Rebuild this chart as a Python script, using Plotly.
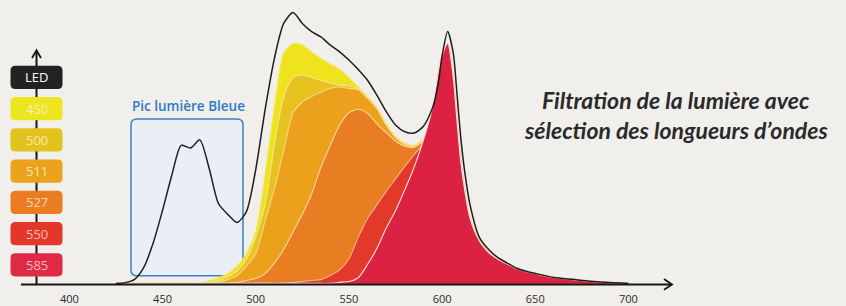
import plotly.graph_objects as go

W, H = 846, 306

# ---------------- data ----------------
wavelengths = [425, 430, 435, 440, 445, 450, 455, 460, 465, 470, 475, 480, 485, 490, 495,
               500, 505, 510, 515, 520, 525, 530, 535, 540, 545, 550, 555, 560, 565, 570,
               575, 580, 585, 590, 595, 598, 600, 603, 606, 608, 610, 612, 615, 620, 625,
               630, 635, 640, 645, 650, 660, 670, 680, 690, 700]

led = [0, 0.3, 1.5, 6, 15, 27, 40, 51, 50, 53, 42.5, 29.5, 25.5, 22.5, 26.5,
       42, 64, 83, 96, 100, 96, 93, 91, 88, 85.5, 82.5, 79, 75, 69.5, 63.5,
       58.5, 56, 55.5, 58, 65, 74, 84, 93, 85, 70, 54, 42, 29, 17, 12.5,
       9.5, 7.5, 5.6, 4.5, 3.7, 2.2, 1.5, 0.8, 0.3, 0]

red_tail = [78, 84, 88.6, 76, 60, 45, 35, 24, 15.7, 11.4,
            8.9, 7.1, 5.4, 4.3, 3.6, 2.1, 1.4, 0.7, 0.2, 0]

f585 = [0] * 24 + [0.4, 0.7, 2.1, 7, 12.9, 20.4, 26.8, 34.6, 42.9, 52.9, 65.4] + red_tail
f550 = [0] * 19 + [0.3, 0.7, 1.1, 1.4, 2.9, 5, 9, 17, 24, 29, 34, 38.6, 43.2, 47.5, 51.8, 61] + red_tail
f527 = [0] * 13 + [0.4, 1.1, 1.8, 3.6, 7.5, 12.5, 19, 25.5, 33, 43, 51, 58.5, 63, 64.3, 62.8,
                   59, 55.7, 52.5, 50.7, 50.3, 52.7, 60.5] + red_tail
f511 = [0] * 11 + [0.4, 1.4, 2.9, 6.4, 11, 23, 35, 49, 63, 67, 69, 70.7, 72, 72.5, 72, 71.5,
                   68.3, 64.5, 58.4, 53.8, 51.3, 50.6, 53, 61.2] + red_tail
f500 = [0] * 10 + [0.4, 1, 2.5, 4.6, 8.9, 17, 29, 51, 69, 76, 77, 76, 75, 74, 73.2, 73, 71.8,
                   68.6, 64.7, 58.7, 54, 51.5, 50.8, 53.2, 61.5] + red_tail
f450 = [0] * 10 + [1, 2, 3.6, 6.4, 11, 19, 40, 65, 85, 88.5, 88, 85.5, 83, 81, 79, 76, 72.5,
                   69, 65, 59, 54.3, 51.8, 51, 53.5, 62] + red_tail

series_labels = ["450", "500", "511", "527", "550", "585"]
series_values = [f450, f500, f511, f527, f550, f585]
series_colors = ["#eee31c", "#e6c31f", "#eca11d", "#e97d22", "#e2392b", "#dc2243"]
series_edges = ["#f3ea60", "#f6e48c", "#f8d58c", "#fbd7a0", "#f6b295", "#fbe2d4"]

legend_labels = ["LED", "450", "500", "511", "527", "550", "585"]
legend_colors = ["#222222", "#ece51f", "#e4c21e", "#eba31e", "#ea7c22", "#e3372b", "#df2a45"]
legend_text_colors = ["#ffffff", "#f8f3a8", "#f7e8a6", "#fbe2a8", "#fcd2a8", "#f8bcae", "#f6b6bf"]

tick_values = [400, 450, 500, 550, 600, 650, 700]
tick_labels = ["400", "450", "500", "550", "600", "650", "700"]

title_lines = ["Filtration de la lumière avec", "sélection des longueurs d’ondes"]

# ---------------- figure ----------------
fig = go.Figure()

for lab, vals, col, edge in zip(series_labels, series_values, series_colors, series_edges):
    fig.add_trace(go.Scatter(
        x=wavelengths, y=vals, name=lab, mode="lines",
        line=dict(color=edge, width=1.1, shape="spline", smoothing=0.7),
        fill="tozeroy", fillcolor=col, hoverinfo="skip"))

fig.add_trace(go.Scatter(
    x=wavelengths, y=led, name="LED", mode="lines",
    line=dict(color="#1e1e1e", width=1.5, shape="spline", smoothing=0.7),
    hoverinfo="skip"))


def px(x):
    return x / W


def py(y):
    return 1 - y / H


def rrect(x0, y0, x1, y1, r):
    pts = [
        ("M", [(x0 + r, y0)]), ("L", [(x1 - r, y0)]), ("Q", [(x1, y0), (x1, y0 + r)]),
        ("L", [(x1, y1 - r)]), ("Q", [(x1, y1), (x1 - r, y1)]), ("L", [(x0 + r, y1)]),
        ("Q", [(x0, y1), (x0, y1 - r)]), ("L", [(x0, y0 + r)]), ("Q", [(x0, y0), (x0 + r, y0)]),
    ]
    s = ""
    for cmd, ps in pts:
        s += cmd + " " + " ".join(f"{px(a):.5f},{py(b):.5f}" for a, b in ps) + " "
    return s + "Z"


shapes = []
# blue box (below traces)
shapes.append(dict(type="path", path=rrect(131, 123, 243, 285, 6), xref="paper", yref="paper",
                   line=dict(color="#3d7fc6", width=1.5), fillcolor="rgba(232,240,250,0.7)",
                   layer="below"))
# axes
axis_col = "#151515"
shapes.append(dict(type="line", xref="paper", yref="paper", x0=px(21), y0=py(294), x1=px(671), y1=py(294),
                   line=dict(color=axis_col, width=2)))
shapes.append(dict(type="path", xref="paper", yref="paper",
                   path=f"M {px(664):.5f},{py(288.5):.5f} L {px(672):.5f},{py(294):.5f} L {px(664):.5f},{py(299.5):.5f}",
                   line=dict(color=axis_col, width=1.8)))
shapes.append(dict(type="line", xref="paper", yref="paper", x0=px(36.5), y0=py(294), x1=px(36.5), y1=py(53),
                   line=dict(color=axis_col, width=2)))
shapes.append(dict(type="path", xref="paper", yref="paper",
                   path=f"M {px(32):.5f},{py(60):.5f} L {px(36.5):.5f},{py(52):.5f} L {px(41):.5f},{py(60):.5f}",
                   line=dict(color=axis_col, width=1.8)))

annotations = []
box_w, box_h = 52, 24
for i, (lab, col, tcol) in enumerate(zip(legend_labels, legend_colors, legend_text_colors)):
    cy = 80 + i * 32.3
    shapes.append(dict(type="path", xref="paper", yref="paper",
                       path=rrect(36.5 - box_w / 2, cy - box_h / 2, 36.5 + box_w / 2, cy + box_h / 2, 5),
                       line=dict(width=0), fillcolor=col))
    annotations.append(dict(x=px(36.5), y=py(cy), xref="paper", yref="paper", text=lab, showarrow=False,
                            font=dict(family="Open Sans, Noto Sans, sans-serif", size=13, color=tcol),
                            xanchor="center", yanchor="middle"))

annotations.append(dict(x=px(188), y=py(110), xref="paper", yref="paper", text="Pic lumière Bleue",
                        showarrow=False, xanchor="center", yanchor="middle",
                        font=dict(family="Open Sans, Noto Sans, sans-serif", size=13.5, color="#2f79c6",
                                  weight=600)))

for line_txt, ly in zip(title_lines, [103, 134]):
    annotations.append(dict(x=px(676), y=py(ly), xref="paper", yref="paper",
                            text=f"<b><i>{line_txt}</i></b>",
                            showarrow=False, xanchor="center", yanchor="middle", align="center",
                            font=dict(family="Lato, Roboto, sans-serif", size=23, color="#2a2a2a")))

fig.update_layout(
    width=W, height=H, margin=dict(l=0, r=0, t=0, b=0),
    paper_bgcolor="#f0efec", plot_bgcolor="#f0efec",
    showlegend=False,
    xaxis=dict(range=[362.78, 816.74], showgrid=False, zeroline=False, showline=False,
               tickvals=tick_values, ticktext=tick_labels, ticks="",
               anchor="free", position=0.016,
               tickfont=dict(family="Open Sans, Noto Sans, sans-serif", size=11, color="#2a2a2a")),
    yaxis=dict(range=[-13 / 2.8, 293 / 2.8], visible=False, fixedrange=True),
    shapes=shapes, annotations=annotations,
)

fig.write_html("out.html", config={"displayModeBar": False, "staticPlot": True},
               post_script="document.body.style.margin='0';document.body.style.background='#f0efec';")
